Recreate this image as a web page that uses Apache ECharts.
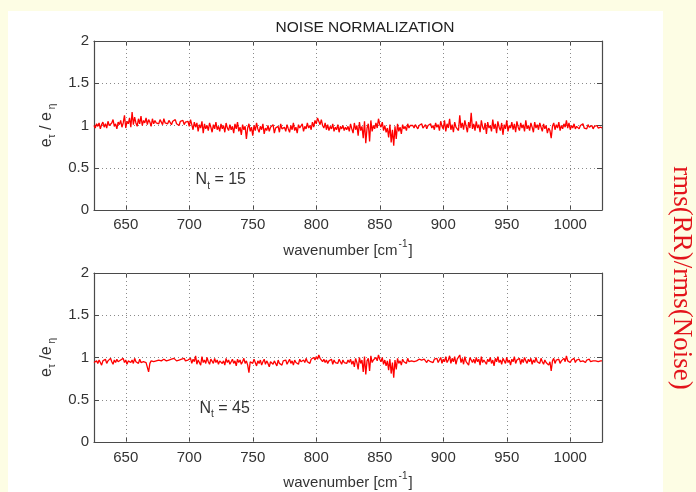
<!DOCTYPE html>
<html>
<head>
<meta charset="utf-8">
<script src="https://cdn.jsdelivr.net/npm/echarts@6/dist/echarts.min.js"></script>
<style>
html,body{margin:0;padding:0;background:#fdfde4;}
#c{width:696px;height:492px;}
</style>
</head>
<body>
<div id="c"></div>
<script>
// ---- data ----
const waveStart = 625;      // first sample, cm^-1
const waveStep = 1;         // sample spacing, cm^-1
const xTickValues = [650, 700, 750, 800, 850, 900, 950, 1000];
const yTickValues = [0, 0.5, 1, 1.5, 2];

// N_t = 15  (upper panel), samples 625..1025 every 1 cm^-1 (rows of 50)
const ratioNt15 = [
  1.00, 0.97, 1.02, 0.99, 1.03, 0.96, 1.01, 1.04, 0.98, 1.02, 0.97, 1.05, 1.00, 0.98, 1.03, 1.07, 0.99, 1.02, 0.96, 1.04,
  1.01, 1.06, 0.98, 1.03, 1.12, 0.97, 1.05, 1.02, 1.09, 0.98, 1.16, 1.01, 1.10, 1.03, 0.99, 1.08, 1.02, 1.11, 1.00, 1.06,
  1.03, 1.09, 1.01, 1.07, 1.04, 0.99, 1.08, 1.02, 1.06, 1.03,
  1.05, 1.02, 1.07, 1.04, 1.01, 1.08, 1.03, 1.05, 1.02, 1.06, 1.04, 1.01, 1.05, 1.03, 1.07, 1.02, 1.04, 1.00, 1.05, 1.03,
  1.06, 1.01, 1.04, 1.02, 1.05, 0.99, 1.07, 1.01, 0.95, 1.04, 0.98, 1.03, 0.93, 1.01, 0.97, 1.05, 0.91, 1.02, 0.96, 1.00,
  0.94, 1.03, 0.98, 0.92, 1.01, 0.96, 1.04, 0.95, 0.99, 0.93,
  1.02, 0.96, 1.00, 0.92, 1.03, 0.97, 0.94, 1.01, 0.95, 0.99, 0.91, 1.02, 0.96, 1.04, 0.93, 0.98, 0.89, 1.01, 0.95, 0.99,
  0.84, 0.97, 1.02, 0.93, 0.98, 0.88, 1.00, 0.94, 1.03, 0.96, 0.92, 0.99, 0.95, 1.02, 0.90, 0.97, 0.94, 1.00, 0.93, 0.98,
  0.96, 1.01, 0.91, 0.97, 0.95, 0.99, 0.92, 1.02, 0.96, 0.94,
  0.98, 0.93, 1.01, 0.96, 0.92, 1.00, 0.95, 1.03, 0.94, 0.98, 0.91, 1.01, 0.97, 0.95, 1.02, 0.93, 0.99, 0.96, 1.03, 0.97,
  1.00, 0.95, 1.04, 0.98, 1.06, 1.02, 1.09, 1.05, 1.01, 1.07, 1.00, 0.97, 1.03, 0.95, 1.01, 0.94, 0.99, 0.96, 1.02, 0.93,
  0.98, 0.95, 1.01, 0.92, 0.99, 0.96, 1.00, 0.94, 0.98, 0.95,
  0.99, 0.93, 1.02, 0.96, 0.91, 1.03, 0.95, 1.00, 0.88, 1.04, 0.94, 0.99, 0.85, 1.05, 0.79, 0.97, 1.02, 0.81, 1.06, 0.93,
  1.00, 0.96, 1.03, 0.97, 1.08, 1.01, 0.98, 1.04, 0.94, 1.00, 0.92, 0.97, 0.86, 1.01, 0.80, 0.95, 0.76, 0.99, 0.84, 1.02,
  0.93, 0.98, 0.90, 1.01, 0.96, 0.99, 0.94, 1.02, 0.97, 1.00,
  0.98, 1.00, 0.97, 1.01, 0.99, 0.96, 1.00, 0.98, 1.02, 0.97, 0.99, 1.01, 0.96, 1.00, 0.98, 1.02, 0.97, 1.00, 0.95, 1.03,
  0.98, 1.01, 0.94, 1.05, 0.99, 0.96, 1.06, 0.93, 1.02, 0.97, 1.08, 0.95, 1.01, 0.92, 1.04, 0.98, 1.00, 0.94, 1.12, 0.97,
  1.03, 0.95, 1.06, 0.99, 0.92, 1.04, 0.97, 1.15, 0.96, 1.02,
  0.94, 1.05, 0.97, 1.01, 0.92, 1.06, 0.98, 0.95, 1.03, 0.90, 1.04, 0.97, 1.00, 0.93, 1.07, 0.96, 1.02, 0.91, 1.05, 0.98,
  0.94, 1.03, 0.89, 1.01, 0.96, 1.06, 0.93, 1.00, 0.97, 1.04, 0.95, 1.02, 0.92, 1.05, 0.98, 0.94, 1.03, 0.97, 1.01, 0.93,
  1.06, 0.96, 1.00, 0.94, 1.03, 0.98, 0.92, 1.04, 0.97, 1.01,
  0.95, 1.03, 0.98, 0.93, 1.02, 0.96, 1.00, 0.91, 0.97, 0.94, 0.85, 0.99, 1.03, 0.95, 1.01, 0.97, 1.04, 0.94, 1.00, 0.96,
  1.02, 0.98, 1.06, 0.97, 1.03, 0.95, 1.00, 0.97, 1.02, 0.96, 0.99, 1.01, 0.96, 1.00, 0.98, 1.02, 0.97, 0.99, 0.96, 1.01,
  0.98, 0.97, 1.00, 0.96, 0.99, 0.98, 1.00, 0.97, 0.99, 0.98,
  0.97
];

// N_t = 45  (lower panel), samples 625..1025 every 1 cm^-1 (rows of 50)
const ratioNt45 = [
  0.94, 0.92, 0.96, 0.93, 0.97, 0.94, 0.91, 0.96, 0.95, 0.98, 0.93, 0.96, 0.94, 0.99, 0.95, 0.92, 0.97, 0.94, 0.98, 0.95,
  0.93, 0.97, 0.95, 0.99, 0.94, 0.97, 0.92, 0.96, 0.98, 0.94, 0.97, 0.93, 0.99, 0.95, 0.96, 0.93, 0.98, 0.94, 0.96, 0.95,
  0.97, 0.94, 0.92, 0.83, 0.93, 0.96, 0.98, 0.95, 0.97, 0.96,
  0.98, 0.97, 0.98, 0.96, 0.97, 0.98, 0.97, 0.96, 0.98, 0.97, 0.96, 0.98, 0.97, 0.99, 0.97, 0.96, 0.98, 0.97, 0.96, 0.98,
  0.97, 0.99, 0.96, 0.98, 0.97, 0.95, 0.99, 0.93, 0.98, 0.95, 1.02, 0.92, 0.97, 0.99, 0.91, 1.01, 0.94, 0.97, 0.93, 1.00,
  0.95, 0.92, 0.98, 0.96, 0.93, 0.99, 0.94, 0.97, 0.92, 0.96,
  0.98, 0.93, 0.96, 0.91, 0.99, 0.94, 0.97, 0.92, 0.95, 0.98, 0.93, 0.96, 0.90, 0.98, 0.94, 0.97, 0.92, 0.95, 0.99, 0.93,
  0.96, 0.91, 0.82, 0.95, 0.97, 0.93, 0.98, 0.94, 0.90, 0.96, 0.93, 0.97, 0.91, 0.95, 0.98, 0.92, 0.96, 0.93, 0.89, 0.95,
  0.97, 0.92, 0.96, 0.94, 0.90, 0.97, 0.93, 0.95, 0.91, 0.96,
  0.94, 0.97, 0.92, 0.95, 0.98, 0.93, 0.96, 0.91, 0.97, 0.94, 0.96, 0.92, 0.98, 0.95, 0.93, 0.97, 0.94, 0.99, 0.95, 0.97,
  0.93, 0.98, 0.96, 1.00, 0.97, 1.01, 0.98, 1.03, 0.99, 0.97, 0.95, 0.98, 0.94, 0.97, 0.93, 0.96, 0.95, 0.98, 0.92, 0.97,
  0.94, 0.96, 0.93, 0.98, 0.95, 0.92, 0.97, 0.94, 0.96, 0.93,
  0.97, 0.94, 0.98, 0.92, 0.96, 0.89, 0.99, 0.94, 0.86, 1.00, 0.93, 0.97, 0.83, 1.01, 0.80, 0.96, 0.99, 0.84, 1.02, 0.94,
  0.97, 0.95, 1.00, 0.96, 1.03, 0.98, 0.95, 1.00, 0.92, 0.97, 0.90, 0.96, 0.85, 0.98, 0.81, 0.94, 0.76, 0.97, 0.86, 0.99,
  0.93, 0.96, 0.91, 0.98, 0.95, 0.97, 0.93, 0.99, 0.95, 0.97,
  0.96, 0.98, 0.95, 0.97, 0.96, 0.94, 0.98, 0.96, 0.97, 0.95, 0.98, 0.96, 0.94, 0.97, 0.99, 0.95, 0.97, 0.94, 0.98, 0.96,
  0.99, 0.94, 0.97, 1.00, 0.93, 0.98, 0.95, 1.01, 0.94, 0.97, 1.02, 0.93, 0.99, 0.95, 1.01, 0.92, 0.98, 0.96, 1.03, 0.94,
  0.99, 0.92, 1.01, 0.95, 0.97, 0.91, 1.00, 1.02, 0.94, 0.98,
  0.93, 1.00, 0.95, 0.98, 0.91, 1.01, 0.94, 0.97, 0.99, 0.92, 0.98, 0.95, 1.00, 0.93, 0.97, 0.90, 0.99, 0.95, 1.01, 0.94,
  0.97, 0.92, 0.99, 0.96, 0.93, 1.00, 0.94, 0.97, 0.91, 0.98, 0.95, 1.01, 0.93, 0.97, 0.95, 0.99, 0.92, 0.98, 0.94, 1.00,
  0.96, 0.93, 0.98, 0.95, 0.99, 0.92, 0.97, 0.94, 1.00, 0.95,
  0.97, 0.93, 0.99, 0.95, 0.92, 0.97, 0.94, 0.96, 0.91, 0.95, 0.84, 0.96, 0.99, 0.93, 0.97, 0.95, 0.98, 0.93, 0.96, 0.94,
  0.99, 0.95, 1.02, 0.96, 0.98, 0.94, 0.97, 0.95, 0.99, 0.94, 0.97, 0.96, 0.98, 0.95, 0.97, 0.96, 0.98, 0.94, 0.97, 0.96,
  0.98, 0.95, 0.97, 0.96, 0.98, 0.96, 0.97, 0.95, 0.97, 0.96,
  0.96
];

const panelNotes = [
  {text: '{n|N}{s|t}{n| = 15}', at: [705, 0.34]},
  {text: '{n|N}{s|t}{n| = 45}', at: [708, 0.38]}
];
const sideTitle = 'rms(RR)/rms(Noise)';
const mainTitle = 'NOISE NORMALIZATION';

// ---- chart ----
const toPairs = arr => arr.map((v, i) => [waveStart + i * waveStep, v]);
const FONT = '"Liberation Sans", Arial, Helvetica, sans-serif';
const AXC = '#4a4a4a';
const GRIDC = '#8a8a8a';

const chart = echarts.init(document.getElementById('c'), null, {renderer: 'canvas'});

const grids = [
  {left: 94, top: 41, width: 508, height: 169, outerBoundsMode: 'none', containLabel: false},
  {left: 94, top: 273, width: 508, height: 169, outerBoundsMode: 'none', containLabel: false}
];
const yNames = [
  '{e|e}{s|τ}{e| / e}{s| η}',
  '{e|e}{s|τ}{e| /e}{s| η}'
];
const xNameGap = [29, 29];
const xLabelMargin = [7, 8];

const xAxes = [], yAxes = [], series = [];
[0, 1].forEach(g => {
  xAxes.push({
    type: 'value', gridIndex: g, min: 625, max: 1025, position: 'bottom',
    axisLine: {show: true, onZero: false, lineStyle: {color: AXC, width: 1.2}},
    axisTick: {show: true, inside: true, length: 5, customValues: xTickValues, lineStyle: {color: AXC}},
    axisLabel: {customValues: xTickValues, formatter: v => String(v), color: '#333', fontSize: 15, fontFamily: FONT, margin: xLabelMargin[g]},
    splitLine: {show: false},
    name: '{a|wavenumber [cm}{p|-1}{a|]}',
    nameLocation: 'middle', nameGap: xNameGap[g],
    nameTextStyle: {rich: {
      a: {fontSize: 15, fontFamily: FONT, color: '#333', lineHeight: 19, verticalAlign: 'bottom'},
      p: {fontSize: 10, fontFamily: FONT, color: '#333', lineHeight: 19, verticalAlign: 'top', padding: [0, 1, 6, 1]}
    }}
  });
  xAxes.push({
    type: 'value', gridIndex: g, min: 625, max: 1025, position: 'top',
    axisLine: {show: true, onZero: false, lineStyle: {color: AXC, width: 1.2}},
    axisTick: {show: true, inside: true, length: 5, customValues: xTickValues, lineStyle: {color: AXC}},
    axisLabel: {show: false},
    splitLine: {show: false}
  });
  yAxes.push({
    type: 'value', gridIndex: g, min: 0, max: 2, interval: 0.5, position: 'left',
    axisLine: {show: true, onZero: false, lineStyle: {color: AXC, width: 1.2}},
    axisTick: {show: true, inside: true, length: 5, lineStyle: {color: AXC}},
    axisLabel: {color: '#333', fontSize: 15, fontFamily: FONT, margin: 5},
    splitLine: {show: true, lineStyle: {color: GRIDC, type: [1, 3], width: 1}},
    name: yNames[g], nameLocation: 'middle', nameGap: 27, nameRotate: 90,
    nameTextStyle: {rich: {
      e: {fontSize: 16, fontFamily: FONT, color: '#333', lineHeight: 19, verticalAlign: 'top'},
      s: {fontSize: 10, fontFamily: FONT, color: '#333', lineHeight: 19, verticalAlign: 'bottom'}
    }}
  });
  yAxes.push({
    type: 'value', gridIndex: g, min: 0, max: 2, interval: 0.5, position: 'right',
    axisLine: {show: true, onZero: false, lineStyle: {color: AXC, width: 1.2}},
    axisTick: {show: true, inside: true, length: 5, lineStyle: {color: AXC}},
    axisLabel: {show: false},
    splitLine: {show: false}
  });
});

const vGridLines = xTickValues.map(v => ({xAxis: v}));
[ratioNt15, ratioNt45].forEach((arr, g) => {
  series.push({
    type: 'line', xAxisIndex: g * 2, yAxisIndex: g * 2,
    data: toPairs(arr), showSymbol: false, symbol: 'none',
    lineStyle: {color: '#ff0000', width: 1.3}, z: 5,
    markLine: {
      silent: true, symbol: 'none', label: {show: false},
      lineStyle: {color: GRIDC, type: [1, 3], width: 1},
      data: vGridLines, z: 1
    }
  });
});

chart.setOption({
  animation: false,
  backgroundColor: '#fdfde4',
  grid: grids,
  xAxis: xAxes,
  yAxis: yAxes,
  series: series,
  graphic: [
    {type: 'rect', shape: {x: 8, y: 11, width: 655, height: 481}, style: {fill: '#ffffff'}, z: -10, silent: true},
    {type: 'text', x: 365, y: 28, style: {text: mainTitle, font: '15.5px ' + FONT, fill: '#222', align: 'center', verticalAlign: 'middle'}},
    {type: 'text', x: 681, y: 278, rotation: -Math.PI / 2,
     style: {text: sideTitle, font: '27px "Liberation Serif", "Times New Roman", serif', fill: '#e3141b', align: 'center', verticalAlign: 'middle'}}
  ]
});

// panel annotations positioned in data coordinates
const notes = panelNotes.map((n, g) => {
  const p = chart.convertToPixel({xAxisIndex: g * 2, yAxisIndex: g * 2}, n.at);
  return {type: 'text', x: p[0], y: p[1],
    style: {text: n.text, align: 'left', verticalAlign: 'middle',
      rich: {
        n: {fontSize: 16, fontFamily: FONT, fill: '#333', lineHeight: 19, verticalAlign: 'top'},
        s: {fontSize: 10, fontFamily: FONT, fill: '#333', lineHeight: 19, verticalAlign: 'bottom'}
      }}};
});
chart.setOption({graphic: notes.map((n, i) => Object.assign({id: 'note' + i}, n))});
</script>
</body>
</html>
